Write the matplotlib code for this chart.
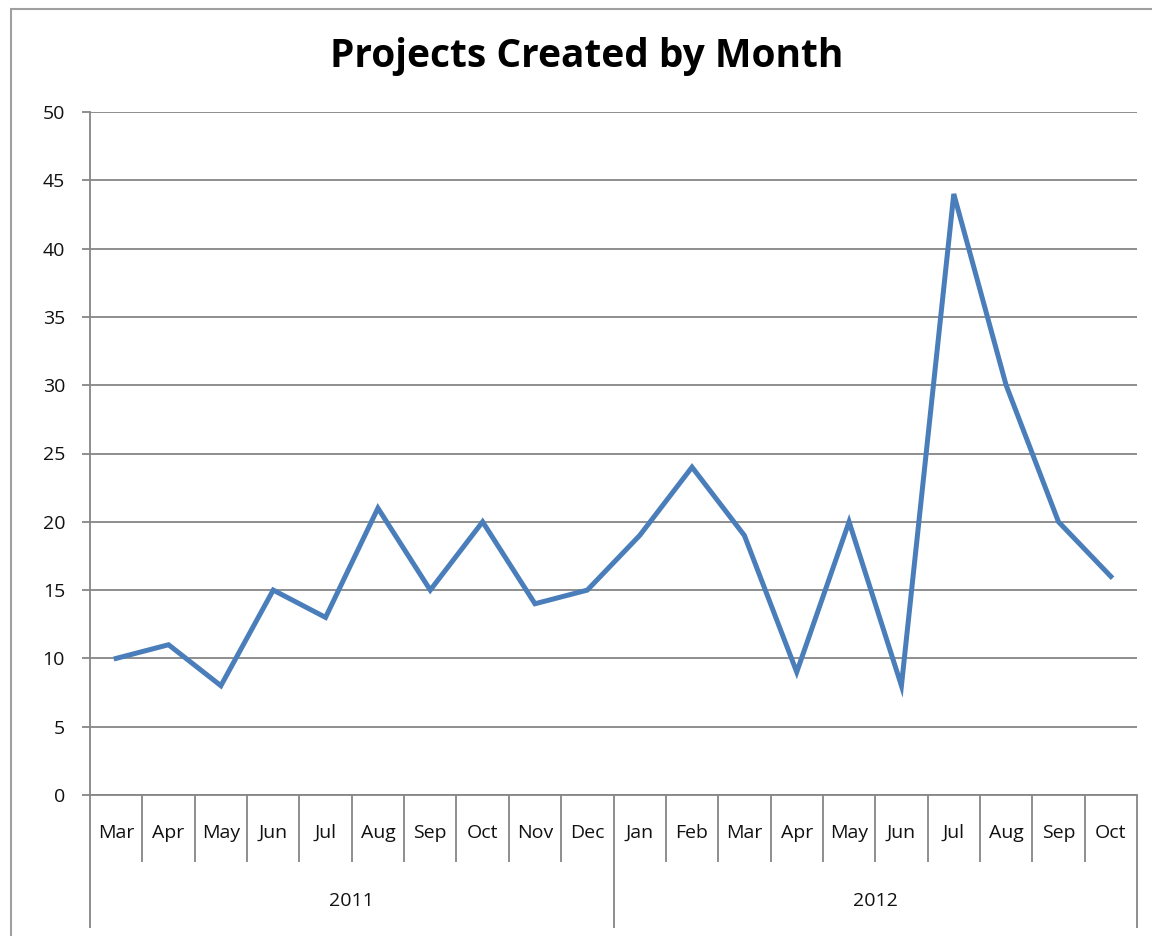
import matplotlib.pyplot as plt
import matplotlib.transforms as mtransforms
from matplotlib.patches import Rectangle

# data
months = ["Mar", "Apr", "May", "Jun", "Jul", "Aug", "Sep", "Oct", "Nov", "Dec",
          "Jan", "Feb", "Mar", "Apr", "May", "Jun", "Jul", "Aug", "Sep", "Oct"]
years = ["2011", "2012"]
months_per_year = [10, 10]
projects = [10, 11, 8, 15, 13, 21, 15, 20, 14, 15,
            19, 24, 19, 9, 20, 8, 44, 30, 20, 16]

plt.rcParams['font.family'] = ['Open Sans', 'DejaVu Sans']
grid_col = '#868686'
line_col = '#4a7ebb'

fig = plt.figure(figsize=(11.52, 9.36), dpi=100)
ax = fig.add_axes([90 / 1152, 1 - 795 / 936, 1047 / 1152, 683 / 936])

x = list(range(len(projects)))
ax.plot(x, projects, color=line_col, lw=3.6, solid_joinstyle='miter', zorder=3)

ax.set_xlim(-0.5, len(projects) - 0.5)
ax.set_ylim(0, 50)
ax.set_yticks(range(0, 51, 5))
ax.yaxis.grid(True, color=grid_col, lw=1.3)
ax.set_axisbelow(True)
ax.tick_params(axis='y', direction='out', length=6, width=1.3, color=grid_col,
               labelsize=14, pad=12, labelcolor='#111111')

for s in ['top', 'right']:
    ax.spines[s].set_visible(False)
for s in ['left', 'bottom']:
    ax.spines[s].set_color(grid_col)
    ax.spines[s].set_linewidth(1.3)

# category axis: short ticks between months, long ticks between years
bounds = [-0.5]
for n in months_per_year:
    bounds.append(bounds[-1] + n)
month_edges = [i + 0.5 for i in range(len(projects) - 1) if i + 0.5 not in bounds]
ax.set_xticks(bounds)
ax.set_xticklabels([])
ax.set_xticks(month_edges, minor=True)
ax.tick_params(axis='x', which='major', direction='out', length=96, width=1.3, color=grid_col)
ax.tick_params(axis='x', which='minor', direction='out', length=48, width=1.3, color=grid_col)

trans = mtransforms.blended_transform_factory(ax.transData, ax.transAxes)
for i, m in enumerate(months):
    ax.text(i, -38 / 683, m, transform=trans, ha='center', va='center', fontsize=14,
            color='#111111')
for k, yr in enumerate(years):
    mid = (bounds[k] + bounds[k + 1]) / 2
    ax.text(mid, -106 / 683, yr, transform=trans, ha='center', va='center', fontsize=14,
            color='#111111')

fig.text(587 / 1152, 1 - 56 / 936, "Projects Created by Month", ha='center', va='center',
         fontsize=28, fontweight='bold')

fig.patches.append(Rectangle((11 / 1152, -0.05), 1.1, 1.05 - 9 / 936, transform=fig.transFigure,
                             fill=False, edgecolor='#a0a0a0', lw=1.5))

fig.savefig("out.png", dpi=100)
